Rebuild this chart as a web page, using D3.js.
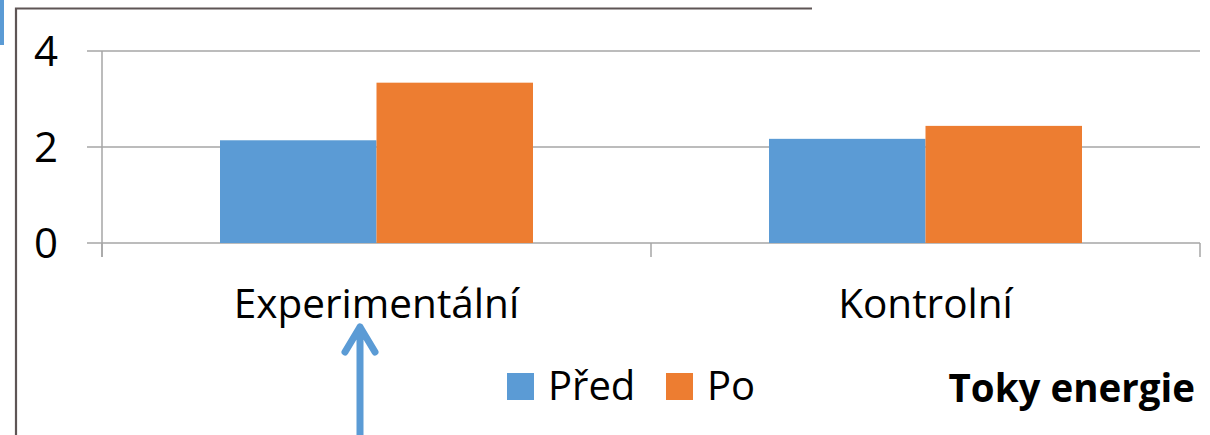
<!DOCTYPE html>
<html>
<head>
<meta charset="utf-8">
<script src="https://cdn.jsdelivr.net/npm/d3@7"></script>
<style>
  body{margin:0;background:#fff;}
  svg{display:block;font-family:"Open Sans",sans-serif;}
</style>
</head>
<body>
<svg id="chart" width="1210" height="435"></svg>
<script>
// data
const categories=["Experimentální","Kontrolní"];
const seriesNames=["Před","Po"];
const predValues=[2.14,2.17];
const poValues=[3.34,2.44];
const yTicks=[0,2,4];
const chartTitle="Toky energie";

const colors={"Před":"#5b9bd5","Po":"#ed7d31"};
const svg=d3.select("#chart");

// rámeček slidu
svg.append("rect").attr("x",0).attr("y",0).attr("width",4).attr("height",45).attr("fill","#5b9bd5");
svg.append("path")
  .attr("d","M16,435 V8.5 H812")
  .attr("fill","none").attr("stroke","#5e5555").attr("stroke-width",2.2);

const x0=d3.scaleBand().domain(categories).range([102,1200]).paddingInner(0).paddingOuter(0);
const x1=d3.scaleBand().domain(seriesNames).range([0,x0.bandwidth()]).paddingInner(0).paddingOuter(0.754);
const y=d3.scaleLinear().domain([0,4]).range([243,51]);

// mřížka
svg.append("g").selectAll("line").data(yTicks).join("line")
  .attr("x1",87).attr("x2",1200)
  .attr("y1",d=>y(d)).attr("y2",d=>y(d))
  .attr("stroke","#a6a6a6").attr("stroke-width",1.5);

// osa y
svg.append("line").attr("x1",102).attr("x2",102).attr("y1",y(4)).attr("y2",257)
  .attr("stroke","#a6a6a6").attr("stroke-width",1.5);
svg.append("g").selectAll("text").data(yTicks).join("text")
  .attr("x",46).attr("y",d=>y(d)+15)
  .attr("text-anchor","middle").attr("font-size",42).attr("fill","#000")
  .text(d=>d);

// sloupce
const rows=categories.map((c,i)=>({cat:c,vals:[{s:"Před",v:predValues[i]},{s:"Po",v:poValues[i]}]}));
svg.append("g").selectAll("g").data(rows).join("g")
  .attr("transform",d=>`translate(${x0(d.cat)},0)`)
  .selectAll("rect").data(d=>d.vals).join("rect")
  .attr("x",d=>x1(d.s)).attr("width",x1.bandwidth())
  .attr("y",d=>y(d.v)).attr("height",d=>y(0)-y(d.v))
  .attr("fill",d=>colors[d.s]);

// osa x
const xTickPos=[...categories.map(c=>x0(c)),x0.range()[1]];
svg.append("g").selectAll("line").data(xTickPos).join("line")
  .attr("x1",d=>d).attr("x2",d=>d).attr("y1",y(0)).attr("y2",257)
  .attr("stroke","#a6a6a6").attr("stroke-width",1.5);
svg.append("g").selectAll("text").data(categories).join("text")
  .attr("x",d=>x0(d)+x0.bandwidth()/2).attr("y",318)
  .attr("text-anchor","middle").attr("font-size",40.5).attr("fill","#000")
  .text(d=>d);

// legenda
const legendX=[507,666];
const lg=svg.append("g").selectAll("g").data(seriesNames).join("g")
  .attr("transform",(d,i)=>`translate(${legendX[i]},373)`);
lg.append("rect").attr("width",27).attr("height",27).attr("fill",d=>colors[d]);
lg.append("text").attr("x",41).attr("y",27).attr("font-size",40).attr("fill","#000").text(d=>d);

// titulek
svg.append("text").attr("x",1195).attr("y",402).attr("text-anchor","end")
  .attr("font-size",38.5).attr("font-weight","bold").attr("fill","#000").text(chartTitle);

// šipka
svg.append("path")
  .attr("d","M360,435 V327 M345,352 L360,327 L375,352")
  .attr("fill","none").attr("stroke","#5b9bd5").attr("stroke-width",7)
  .attr("stroke-linecap","round").attr("stroke-linejoin","round");
</script>
</body>
</html>
